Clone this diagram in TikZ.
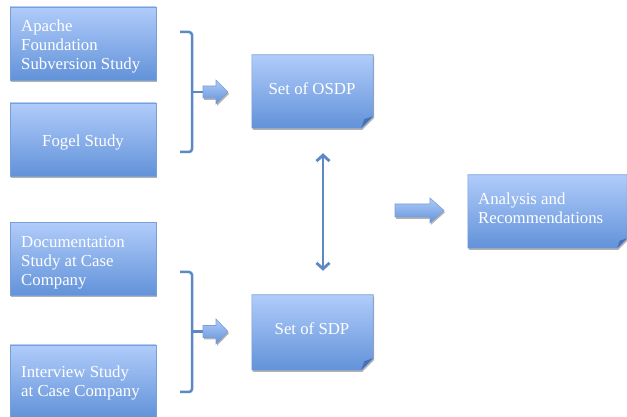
\documentclass[tikz,border=0pt]{standalone}
\usepackage{fontspec}
\setmainfont{Liberation Serif}
\usetikzlibrary{shadows,arrows.meta}
\definecolor{boxtop}{RGB}{176,204,250}
\definecolor{boxbot}{RGB}{98,146,217}
\definecolor{boxline}{RGB}{122,158,214}
\definecolor{foldc}{RGB}{72,112,180}
\definecolor{brkc}{RGB}{92,136,198}
\begin{document}
\begin{tikzpicture}[x=1pt,y=1pt,
  panel/.style={draw=boxline, line width=0.6pt, top color=boxtop, bottom color=boxbot,
    drop shadow={shadow xshift=1pt, shadow yshift=-1.8pt, opacity=0.3, fill=black}},
  box/.style={panel, minimum width=146pt, minimum height=73pt, inner sep=0pt},
  slot/.style={inner sep=0pt, draw=none},
  txt/.style={text=white, font=\fontsize{16.8}{19}\selectfont, inner sep=0pt, align=left},
  ctxt/.style={text=white, font=\fontsize{16.8}{19}\selectfont, inner sep=0pt, align=center},
  brk/.style={draw=brkc, line width=2.5pt, rounded corners=3pt},
  dbl/.style={draw=brkc, line width=2.8pt, {Straight Barb[length=6pt,width=13pt]}-{Straight Barb[length=6pt,width=13pt]}}
]
\useasboundingbox (0,0) rectangle (627,417);

% left boxes
\node[box] (apache) at (83,373.5) {};
\node[txt, anchor=west] (apachet) at (21,371) {Apache\\Foundation\\Subversion Study};
\node[box] (fogel) at (83,277.5) {};
\node[ctxt] (fogelt) at (83,275) {Fogel Study};
\node[box] (doc) at (83,158) {};
\node[txt, anchor=west] (doct) at (21,154) {Documentation\\Study at Case\\Company};
\node[box] (interview) at (83,35.5) {};
\node[txt, anchor=west] (interviewt) at (21,34) {Interview Study\\at Case Company};

% folded boxes
\node[slot, minimum width=121pt, minimum height=73pt] (osdp) at (312.5,325.5) {};
\path[panel] (osdp.north west) -- (osdp.north east) -- ([yshift=12pt]osdp.south east)
  -- ([xshift=-12pt]osdp.south east) -- (osdp.south west) -- cycle;
\fill[foldc] ([yshift=12pt]osdp.south east) -- ([xshift=-12pt]osdp.south east)
  -- ([xshift=-9pt,yshift=9pt]osdp.south east) -- cycle;
\node[ctxt] (osdpt) at (312,328.5) {Set of OSDP};

\node[slot, minimum width=121pt, minimum height=75pt] (sdp) at (312.5,84.5) {};
\path[panel] (sdp.north west) -- (sdp.north east) -- ([yshift=12pt]sdp.south east)
  -- ([xshift=-12pt]sdp.south east) -- (sdp.south west) -- cycle;
\fill[foldc] ([yshift=12pt]sdp.south east) -- ([xshift=-12pt]sdp.south east)
  -- ([xshift=-9pt,yshift=9pt]sdp.south east) -- cycle;
\node[ctxt] (sdpt) at (312,88.5) {Set of SDP};

\node[slot, minimum width=159pt, minimum height=73pt] (ana) at (547.5,205.5) {};
\path[panel] (ana.north west) -- (ana.north east) -- ([yshift=10pt]ana.south east)
  -- ([xshift=-10pt]ana.south east) -- (ana.south west) -- cycle;
\fill[foldc] ([yshift=10pt]ana.south east) -- ([xshift=-10pt]ana.south east)
  -- ([xshift=-7.5pt,yshift=7.5pt]ana.south east) -- cycle;
\node[txt, anchor=west] (anat) at (478,208.5) {Analysis and\\Recommendations};

% brackets
\draw[brk] (180,385) -- (192,385) -- (192,265) -- (180,265);
\draw[brk] (192,325) -- (204,325);
\draw[brk] (180,145) -- (192,145) -- (192,25) -- (180,25);
\draw[brk] (192,85.5) -- (204,85.5);

% block arrows
\path[panel] (203,319) -- (216,319) -- (216,313) -- (228,325) -- (216,337) -- (216,331) -- (203,331) -- cycle;
\path[panel] (203,79.5) -- (216,79.5) -- (216,73) -- (228,85.5) -- (216,98) -- (216,91.5) -- (203,91.5) -- cycle;
\path[panel] (395,200) -- (430,200) -- (430,194) -- (444,206.5) -- (430,219) -- (430,213) -- (395,213) -- cycle;

% double arrow
\draw[dbl] ([xshift=10.5pt,yshift=-25pt]osdp.south) -- ([xshift=10.5pt,yshift=24pt]sdp.north);
\end{tikzpicture}
\end{document}
